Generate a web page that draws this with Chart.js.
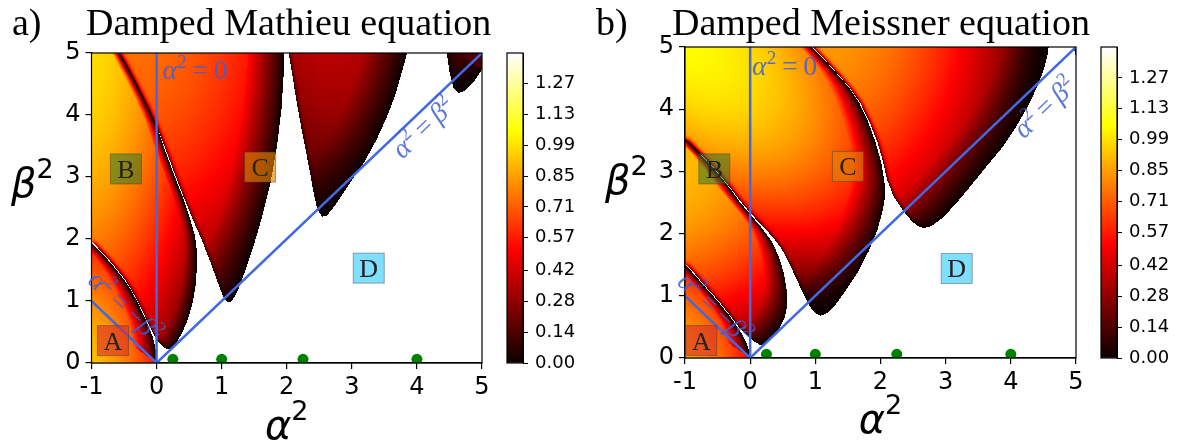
<!DOCTYPE html>
<html lang="en">
<head>
<meta charset="UTF-8">
<title>Damped Mathieu and Meissner equations</title>
<script src="https://cdn.jsdelivr.net/npm/chart.js"></script>
<style>
  body { margin: 0; background: #fff; }
  #wrap { position: relative; width: 1182px; height: 445px; overflow: hidden; }
  #wrap canvas { position: absolute; top: 0; }
</style>
</head>
<body>
<div id="wrap">
  <canvas id="mathieu" width="540" height="445" style="left:0"></canvas>
  <canvas id="meissner" width="540" height="445" style="left:590px"></canvas>
  <canvas id="barA" width="90" height="445" style="left:500px"></canvas>
  <canvas id="barB" width="92" height="445" style="left:1090px"></canvas>
</div>
<script>
// ---- axes --------------------------------------------------------------
const alphaTicks = [-1, 0, 1, 2, 3, 4, 5];
const betaTicks = [0, 1, 2, 3, 4, 5];
const colorTicks = [0.00, 0.14, 0.28, 0.42, 0.57, 0.71, 0.85, 0.99, 1.13, 1.27];
const colorMax = 1.41;

// resonances alpha^2 = n^2/4 marked just above the axis
const resonanceAlpha = [0.25, 1, 2.25, 4];
const resonanceBeta = [0.06, 0.06, 0.06, 0.06];

// guide lines
const lineAxis = [[0, 0], [0, 5]];    // alpha^2 = 0
const lineDiag = [[0, 0], [5, 5]];    // alpha^2 = beta^2
const lineAnti = [[-1, 1], [0, 0]];   // alpha^2 = -beta^2

const regionNames = ['A', 'B', 'C', 'D'];

// ---- damped Mathieu: unstable tongues, outline as [alpha^2, beta^2] ------
const mathieuTongue0 = [[-1, 0], [-1, 1.945], [-0.8, 1.725], [-0.66, 1.555], [-0.5, 1.345], [-0.4, 1.185],
  [-0.3, 0.995], [-0.2, 0.775], [-0.12, 0.585], [-0.06, 0.42], [-0.02, 0.25], [0, 0.08], [0, 0]];
const mathieuTongue1 = [[-1, 5], [-1, 1.965], [-0.8, 1.745], [-0.66, 1.575], [-0.5, 1.365], [-0.4, 1.205],
  [-0.3, 1.015], [-0.2, 0.8], [-0.12, 0.62], [-0.05, 0.47], [0.02, 0.35], [0.09, 0.27], [0.16, 0.22],
  [0.22, 0.23], [0.3, 0.32], [0.4, 0.5], [0.48, 0.7], [0.55, 0.95], [0.6, 1.25], [0.62, 1.55],
  [0.62, 1.8], [0.59, 2.05], [0.52, 2.31], [0.4, 2.68], [0.26, 3.06], [0.12, 3.46], [0.01, 3.8],
  [-0.13, 4.12], [-0.31, 4.5], [-0.47, 4.82], [-0.57, 5]];
const mathieuTongue2 = [[-0.57, 5], [-0.47, 4.82], [-0.31, 4.5], [-0.13, 4.12], [0.01, 3.8], [0.135, 3.46],
  [0.275, 3.06], [0.415, 2.68], [0.55, 2.33], [0.68, 2.02], [0.8, 1.7], [0.9, 1.42], [0.98, 1.18],
  [1.04, 1.04], [1.1, 0.98], [1.16, 1.0], [1.24, 1.15], [1.35, 1.45], [1.48, 1.85], [1.62, 2.35],
  [1.75, 2.9], [1.85, 3.5], [1.92, 4.1], [1.95, 4.6], [1.96, 5]];
const mathieuTongue3 = [[2.03, 5], [2.1, 4.55], [2.17, 4.1], [2.24, 3.7], [2.31, 3.33], [2.37, 3.0],
  [2.42, 2.7], [2.47, 2.48], [2.54, 2.36], [2.62, 2.38], [2.77, 2.58], [2.95, 2.87], [3.18, 3.22],
  [3.38, 3.6], [3.54, 3.97], [3.66, 4.3], [3.75, 4.62], [3.85, 5]];
const mathieuTongue4 = [[4.46, 5], [4.5, 4.7], [4.56, 4.44], [4.64, 4.35], [4.74, 4.39], [4.87, 4.53],
  [5, 4.73], [5, 5]];
const mathieuPeak = [0.95, 1.0, 0.75, 0.38, 0.16];

// ---- damped Meissner ---------------------------------------------------
const meissnerTongue0 = [[-1, 0], [-1, 1.505], [-0.86, 1.345], [-0.72, 1.175], [-0.6, 1.035], [-0.46, 0.865],
  [-0.32, 0.685], [-0.2, 0.505], [-0.12, 0.375], [-0.05, 0.22], [0, 0.06], [0, 0]];
const meissnerTongue1 = [[-1, 3.52], [-1, 1.525], [-0.86, 1.365], [-0.72, 1.195], [-0.6, 1.055], [-0.46, 0.885],
  [-0.32, 0.705], [-0.2, 0.53], [-0.1, 0.41], [0, 0.32], [0.07, 0.26], [0.15, 0.21], [0.22, 0.22],
  [0.32, 0.3], [0.44, 0.46], [0.53, 0.65], [0.57, 0.85], [0.56, 1.1], [0.52, 1.35], [0.45, 1.6],
  [0.34, 1.86], [0.18, 2.09], [0, 2.31], [-0.16, 2.51], [-0.31, 2.73], [-0.46, 2.92], [-0.61, 3.11],
  [-0.8, 3.31]];
const meissnerTongue2 = [[-1, 5], [0.945, 5], [1.135, 4.8], [1.33, 4.57], [1.515, 4.35], [1.675, 4.1],
  [1.81, 3.8], [1.92, 3.48], [2.01, 3.15], [2.06, 2.85], [2.07, 2.6], [2.03, 2.35], [1.95, 2.05],
  [1.82, 1.72], [1.64, 1.36], [1.45, 1.06], [1.3, 0.84], [1.18, 0.72], [1.08, 0.68], [1.0, 0.72],
  [0.92, 0.82], [0.82, 1.02], [0.72, 1.25], [0.6, 1.52], [0.48, 1.76], [0.36, 1.93], [0.2, 2.11],
  [0.01, 2.325], [-0.15, 2.525], [-0.31, 2.745], [-0.46, 2.935], [-0.61, 3.125], [-0.8, 3.325], [-1, 3.535]];
const meissnerTongue3 = [[0.955, 5], [1.145, 4.8], [1.34, 4.57], [1.525, 4.35], [1.69, 4.1],
  [1.83, 3.8], [1.95, 3.48], [2.04, 3.15], [2.1, 2.87], [2.2, 2.6], [2.34, 2.38], [2.48, 2.2],
  [2.58, 2.12], [2.67, 2.09], [2.78, 2.12], [2.95, 2.25], [3.15, 2.47], [3.37, 2.75], [3.62, 3.07],
  [3.88, 3.4], [4.1, 3.75], [4.29, 4.1], [4.42, 4.4], [4.5, 4.62], [4.56, 4.85], [4.58, 5]];
const meissnerTongue4 = [[4.96, 5], [5, 4.85], [5, 5]];
const meissnerPeak = [0.9, 0.92, 1.05, 0.85, 0.05];

const SERIF = '"Liberation Serif", "DejaVu Serif", serif';
const SANS = '"DejaVu Sans", sans-serif';
const ROYAL = '#4169e1';
const LABEL_BLUE = 'rgba(65, 95, 210, 0.85)';

Chart.defaults.font.family = SANS;
Chart.defaults.color = '#000';

// matplotlib "hot" colour map, f in [0, 1]
function hot(f) {
  f = Math.max(0, Math.min(1, f));
  const r = 0.0416 + 0.9584 * Math.min(1, f / 0.365079);
  const g = Math.max(0, Math.min(1, (f - 0.365079) / 0.380953));
  const b = Math.max(0, Math.min(1, (f - 0.746032) / 0.253968));
  return [r * 255, g * 255, b * 255];
}

function hotGradient(chart) {
  const a = chart.chartArea;
  if (!a) return null;
  const g = chart.ctx.createLinearGradient(0, a.bottom, 0, a.top);
  g.addColorStop(0, 'rgb(11,0,0)');
  g.addColorStop(0.365, 'rgb(255,0,0)');
  g.addColorStop(0.746, 'rgb(255,255,0)');
  g.addColorStop(1, 'rgb(255,255,255)');
  return g;
}

// Rasterise the growth-rate field of every tongue: a smooth bump around
// its brightest corner, a thin black rim on every boundary and a slower
// fade towards the boundary lying down and to the right.
const FADE_DIR = [Math.cos(0.6), Math.sin(0.6)];

function paintTongues(chart, tongues) {
  const {chartArea: a, scales: {x, y}} = chart;
  const W = chart.canvas.width, H = chart.canvas.height;
  const mask = document.createElement('canvas');
  mask.width = W; mask.height = H;
  const m = mask.getContext('2d', {willReadFrequently: true});
  const out = document.createElement('canvas');
  out.width = W; out.height = H;
  const o = out.getContext('2d');
  const img = o.createImageData(W, H);
  const x0 = Math.floor(a.left), x1 = Math.ceil(a.right);
  const y0 = Math.floor(a.top), y1 = Math.ceil(a.bottom);

  for (const t of tongues) {
    const shape = new Path2D();
    t.points.forEach(([u, v], i) => {
      const px = x.getPixelForValue(u), py = y.getPixelForValue(v);
      if (i === 0) shape.moveTo(px, py); else shape.lineTo(px, py);
    });
    shape.closePath();

    m.filter = 'none';
    m.clearRect(0, 0, W, H);
    m.fillStyle = '#fff';
    m.fill(shape);
    const hard = m.getImageData(0, 0, W, H).data;

    // the frame counts as inside, so only real boundaries get the dark rim
    const soft = new Path2D();
    soft.addPath(shape);
    soft.rect(0, 0, W, a.top);
    soft.rect(0, a.bottom, W, H - a.bottom);
    soft.rect(0, 0, a.left, H);
    soft.rect(a.right, 0, W - a.right, H);
    m.clearRect(0, 0, W, H);
    m.filter = 'blur(2.5px)';
    m.fill(soft);
    m.filter = 'none';
    const blur = m.getImageData(0, 0, W, H).data;

    const cos = Math.cos(t.tilt), sin = Math.sin(t.tilt);
    const reach = t.fade;
    for (let py = y0; py < y1; py++) {
      const v = y.getValueForPixel(py + 0.5);
      for (let px = x0; px < x1; px++) {
        const k = (py * W + px) * 4;
        if (hard[k + 3] < 128) continue;
        const u = x.getValueForPixel(px + 0.5);

        const rim = Math.pow(Math.max(0, 2 * blur[k + 3] / 255 - 1), 0.6);
        let r = 1;
        for (; r < reach; r++) {
          const qx = Math.round(px + FADE_DIR[0] * r), qy = Math.round(py + FADE_DIR[1] * r);
          if (qx >= x1 || qy >= y1) { r = reach; break; }
          if (hard[(qy * W + qx) * 4 + 3] < 128) break;
        }
        const fade = Math.pow(r / reach, 0.8);

        const pu = u - t.glow[0], pv = v - t.glow[1];
        const du = (pu * cos + pv * sin) / t.spread[0];
        const dv = (-pu * sin + pv * cos) / t.spread[1];
        const val = t.peak * Math.max(0, 1 - du * du - dv * dv) * rim * fade;
        const c = hot(val / colorMax);
        img.data[k] = c[0];
        img.data[k + 1] = c[1];
        img.data[k + 2] = c[2];
        img.data[k + 3] = 255;
      }
    }
  }
  o.putImageData(img, 0, 0);
  return out;
}

const tonguePlugin = {
  id: 'tongues',
  beforeDatasetsDraw(chart, args, opts) {
    const {ctx, chartArea: a} = chart;
    if (!chart.$field) chart.$field = paintTongues(chart, opts.list);
    ctx.save();
    ctx.beginPath();
    ctx.rect(a.left, a.top, a.width, a.height);
    ctx.clip();
    ctx.drawImage(chart.$field, 0, 0);
    ctx.restore();
  }
};

// draw a run of [text, font, rise] pieces starting at x on baseline y
function mathText(ctx, parts, x, y, align) {
  let w = 0;
  for (const p of parts) { ctx.font = p[1]; w += ctx.measureText(p[0]).width; }
  let cx = align === 'center' ? x - w / 2 : x;
  ctx.textAlign = 'left';
  ctx.textBaseline = 'alphabetic';
  for (const p of parts) {
    ctx.font = p[1];
    ctx.fillText(p[0], cx, y - (p[2] || 0));
    cx += ctx.measureText(p[0]).width;
  }
}

const itM = 'italic 28px ' + SERIF, rmM = '28px ' + SERIF, rmS = '19px ' + SERIF;
const labelZero = [['α', itM], ['2', rmS, 11], ['\u2009=\u2009', rmM], ['0', rmM]];
const labelDiag = [['α', itM], ['2', rmS, 11], ['\u2009=\u2009', rmM], ['β', itM], ['2', rmS, 11]];
const labelAnti = [['α', itM], ['2', rmS, 11], ['\u2009=\u2009', rmM], ['−', rmM], ['β', itM], ['2', rmS, 11]];

const decorPlugin = {
  id: 'decor',
  afterDatasetsDraw(chart, args, o) {
    const {ctx, chartArea: a, scales: {x, y}} = chart;
    const X = u => x.getPixelForValue(u), Y = v => y.getPixelForValue(v);
    ctx.save();

    // frame
    ctx.strokeStyle = '#000';
    ctx.lineWidth = 1.2;
    ctx.strokeRect(a.left, a.top, a.width, a.height);

    // guide line captions
    ctx.fillStyle = LABEL_BLUE;
    mathText(ctx, labelZero, X(o.zeroAt[0]), Y(o.zeroAt[1]), 'left');
    const diagAngle = Math.atan2(Y(5) - Y(0), X(5) - X(0));
    ctx.save();
    ctx.translate(X(o.diagAt[0]), Y(o.diagAt[1]));
    ctx.rotate(diagAngle);
    ctx.fillStyle = LABEL_BLUE;
    mathText(ctx, labelDiag, 0, 9, 'center');
    ctx.restore();
    const antiAngle = Math.atan2(Y(0) - Y(1), X(0) - X(-1));
    ctx.save();
    ctx.translate(X(o.antiAt[0]), Y(o.antiAt[1]));
    ctx.rotate(antiAngle);
    ctx.fillStyle = LABEL_BLUE;
    mathText(ctx, labelAnti, 0, 9, 'center');
    ctx.restore();

    // region tags
    regionNames.forEach((n, i) => {
      const px = X(o.nameAt[i][0]), py = Y(o.nameAt[i][1]);
      ctx.fillStyle = o.tagFill[i];
      ctx.fillRect(px - 15.5, py - 15, 31, 30);
      ctx.strokeStyle = 'rgba(60,60,60,0.45)';
      ctx.lineWidth = 1;
      ctx.strokeRect(px - 15.5, py - 15, 31, 30);
      ctx.fillStyle = '#222';
      ctx.font = '26px ' + SERIF;
      ctx.textAlign = 'center';
      ctx.textBaseline = 'alphabetic';
      ctx.fillText(n, px, py + 9);
    });

    // axis names
    ctx.fillStyle = '#000';
    mathText(ctx, [['α', 'italic 40px ' + SANS], ['2', '27px ' + SANS, 19]], (a.left + a.right) / 2, o.alphaBase, 'center');
    mathText(ctx, [['β', 'italic 40px ' + SANS], ['2', '27px ' + SANS, 19]], o.betaLeft, o.betaBase, 'left');

    // panel title
    ctx.font = '38px ' + SERIF;
    ctx.textAlign = 'left';
    ctx.fillText(o.tag, o.tagX, 35);
    ctx.fillText(o.title, o.titleX, 35);
    ctx.restore();
  }
};

const pts = arr => arr.map(([u, v]) => ({x: u, y: v}));

function panel(id, cfg) {
  return new Chart(document.getElementById(id), {
    type: 'scatter',
    data: {
      datasets: [
        {data: pts(lineAxis), showLine: true, borderColor: ROYAL, borderWidth: 2.5, pointRadius: 0},
        {data: pts(lineDiag), showLine: true, borderColor: ROYAL, borderWidth: 2.5, pointRadius: 0},
        {data: pts(lineAnti), showLine: true, borderColor: ROYAL, borderWidth: 2.5, pointRadius: 0},
        {data: resonanceAlpha.map((u, i) => ({x: u, y: resonanceBeta[i]})),
         pointRadius: 5.5, backgroundColor: '#008000', borderWidth: 0}
      ]
    },
    options: {
      responsive: false,
      animation: false,
      events: [],
      layout: {padding: {left: 0, top: cfg.top, right: cfg.right, bottom: 0}},
      plugins: {
        legend: {display: false},
        tooltip: {enabled: false},
        tongues: {list: cfg.tongues},
        decor: cfg.decor
      },
      scales: {
        x: {
          type: 'linear', min: -1, max: 5,
          afterBuildTicks: s => { s.ticks = alphaTicks.map(v => ({value: v})); },
          afterFit: s => { s.height = 445 - cfg.bottom; },
          ticks: {font: {size: 24}, color: '#000', padding: 4, maxRotation: 0, callback: v => String(v)},
          grid: {drawOnChartArea: false, tickLength: 6, color: '#000', lineWidth: 1.2},
          border: {color: '#000', width: 1.2}
        },
        y: {
          type: 'linear', min: 0, max: 5,
          afterBuildTicks: s => { s.ticks = betaTicks.map(v => ({value: v})); },
          afterFit: s => { s.width = cfg.left; },
          ticks: {font: {size: 24}, color: '#000', padding: 5, callback: v => String(v)},
          grid: {drawOnChartArea: false, tickLength: 6, color: '#000', lineWidth: 1.2},
          border: {color: '#000', width: 1.2}
        }
      }
    },
    plugins: [tonguePlugin, decorPlugin]
  });
}

function colorbar(id, cfg) {
  return new Chart(document.getElementById(id), {
    type: 'bar',
    data: {
      labels: [''],
      datasets: [{
        data: [[0, colorMax]],
        backgroundColor: c => hotGradient(c.chart),
        barPercentage: 1, categoryPercentage: 1, borderWidth: 0
      }]
    },
    options: {
      responsive: false,
      animation: false,
      events: [],
      layout: {padding: {left: cfg.left, top: cfg.top, right: 0, bottom: 445 - cfg.bottom}},
      plugins: {legend: {display: false}, tooltip: {enabled: false}},
      scales: {
        x: {display: false},
        y: {
          position: 'right', min: 0, max: colorMax,
          afterBuildTicks: s => { s.ticks = colorTicks.map(v => ({value: v})); },
          afterFit: s => { s.width = cfg.width - cfg.left - 16; },
          ticks: {font: {size: 18}, color: '#000', padding: 7, callback: v => v.toFixed(2)},
          grid: {drawOnChartArea: false, tickLength: 5, color: '#000', lineWidth: 1},
          border: {color: '#000', width: 1}
        }
      }
    },
    plugins: [{
      id: 'frame',
      afterDatasetsDraw(chart) {
        const {ctx, chartArea: a} = chart;
        ctx.save();
        ctx.strokeStyle = '#000';
        ctx.lineWidth = 1.2;
        ctx.strokeRect(a.left, a.top, a.width, a.height);
        ctx.restore();
      }
    }]
  });
}

// shading of each tongue: brightest point, its reach along two axes, axis tilt,
// and how many pixels the fade towards the lower-right boundary takes
const tongueShade = (outlines, peaks, glows, spreads, tilts, fades) =>
  outlines.map((points, i) => ({points, peak: peaks[i], glow: glows[i], spread: spreads[i],
    tilt: tilts[i], fade: fades[i]}));

const TAG_FILL = ['rgba(215,45,45,0.6)', 'rgba(40,120,40,0.55)', 'rgba(225,130,0,0.65)', 'rgba(0,191,255,0.5)'];

panel('mathieu', {
  left: 91.5, right: 58, top: 53, bottom: 363,
  tongues: tongueShade(
    [mathieuTongue0, mathieuTongue1, mathieuTongue2, mathieuTongue3, mathieuTongue4], mathieuPeak,
    [[-1.3, -0.3], [-1.3, 5.4], [-0.4, 5.4], [2.7, 5.6], [4.9, 5.3]],
    [[2.0, 3.6], [2.8, 7.5], [3.6, 5.5], [1.9, 3.4], [0.6, 1.0]],
    [0, 0, 0, 0, 0],
    [30, 16, 45, 45, 30]),
  decor: {
    zeroAt: [0.09, 4.58], diagAt: [4.1, 3.8], antiAt: [-0.48, 0.91],
    nameAt: [[-0.67, 0.36], [-0.47, 3.13], [1.59, 3.16], [3.26, 1.53]],
    tagFill: TAG_FILL,
    alphaBase: 439, betaLeft: 11, betaBase: 197,
    tag: 'a)', tagX: 12, title: 'Damped Mathieu equation', titleX: 86
  }
});

panel('meissner', {
  left: 95, right: 54, top: 47, bottom: 358,
  tongues: tongueShade(
    [meissnerTongue0, meissnerTongue1, meissnerTongue2, meissnerTongue3, meissnerTongue4], meissnerPeak,
    [[-1.3, -0.3], [-1.4, 3.2], [-1.1, 5.2], [1.0, 5.6], [5, 5]],
    [[2.0, 3.0], [3.8, 3.8], [5.5, 3.0], [3.6, 5.0], [1, 1]],
    [0, 0, -Math.PI / 4, 0, 0],
    [30, 28, 40, 45, 30]),
  decor: {
    zeroAt: [0.03, 4.55], diagAt: [4.52, 4.03], antiAt: [-0.54, 0.8],
    nameAt: [[-0.75, 0.28], [-0.55, 3.04], [1.5, 3.08], [3.17, 1.44]],
    tagFill: TAG_FILL,
    alphaBase: 433, betaLeft: 15, betaBase: 194,
    tag: 'b)', tagX: 6, title: 'Damped Meissner equation', titleX: 82
  }
});

colorbar('barA', {left: 7, width: 90, top: 53, bottom: 363});
colorbar('barB', {left: 11, width: 92, top: 47, bottom: 358});
</script>
</body>
</html>
